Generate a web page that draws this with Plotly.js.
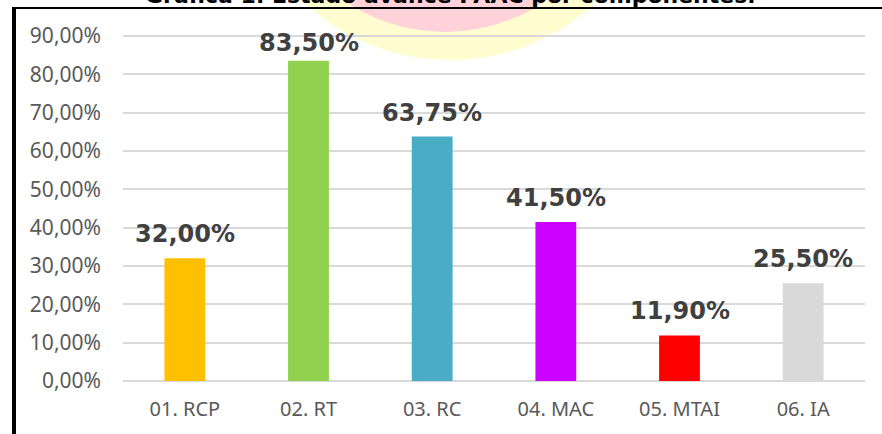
<!DOCTYPE html>
<html>
<head>
<meta charset="utf-8">
<script src="https://cdn.plot.ly/plotly-3.0.1.min.js"></script>
<style>html,body{margin:0;padding:0;background:#fff;}#chart{width:882px;height:434px;}</style>
</head>
<body>
<div id="chart"></div>
<script>
const categories = ["01. RCP", "02. RT", "03. RC", "04. MAC", "05. MTAI", "06. IA"];
const values = [32.00, 83.50, 63.75, 41.50, 11.90, 25.50];
const labels = ["32,00%", "83,50%", "63,75%", "41,50%", "11,90%", "25,50%"];
const colors = ["#FFC000", "#92D050", "#4BACC6", "#CC00FF", "#FF0000", "#D9D9D9"];
const tickValues = [0, 10, 20, 30, 40, 50, 60, 70, 80, 90];
const tickLabels = ["0,00%", "10,00%", "20,00%", "30,00%", "40,00%", "50,00%", "60,00%", "70,00%", "80,00%", "90,00%"];
const titleText = "Gráfica 1. Estado avance PAAC por componentes.";

const trace = {
  type: "bar",
  x: categories,
  y: values,
  marker: {color: colors},
  hoverinfo: "none"
};

// labels near the top of the plot area are pulled down a little, as in the reference
const annotations = categories.map((c, i) => ({
  x: c, y: values[i], xref: "x", yref: "y",
  text: labels[i], showarrow: false, yanchor: "bottom",
  yshift: values[i] > 80 ? 2 : 8,
  font: {family: "DejaVu Sans", size: 24, color: "#404040", weight: "bold"}
}));
annotations.push({
  x: 0.442, y: 1.0688, xref: "paper", yref: "paper", yanchor: "bottom",
  text: "<b>" + titleText + "</b>", showarrow: false,
  font: {family: "DejaVu Sans", size: 22, color: "#000000"}
});

const layout = {
  width: 882, height: 434,
  margin: {l: 123, r: 17, t: 34, b: 51},
  paper_bgcolor: "#ffffff", plot_bgcolor: "#ffffff",
  bargap: 0.67,
  showlegend: false,
  xaxis: {
    showgrid: false, showline: false, zeroline: false, ticks: "",
    tickfont: {family: "Noto Sans", size: 20, color: "#595959"},
    ticklabelstandoff: 12
  },
  yaxis: {
    range: [-0.5, 90.5], showgrid: true, gridcolor: "#D9D9D9", gridwidth: 2,
    zeroline: false, showline: false, ticks: "",
    tickmode: "array", tickvals: tickValues, ticktext: tickLabels,
    tickfont: {family: "Noto Sans", size: 21, color: "#595959"},
    ticklabelstandoff: 21
  },
  annotations: annotations,
  shapes: [
    {type: "circle", xref: "paper", yref: "paper", layer: "below",
     x0: (450-214-123)/742, x1: (450+214-123)/742,
     y0: 1 + (34-60)/348.8, y1: 1 + (34+368)/348.8,
     fillcolor: "#FFFDD0", line: {width: 0}},
    {type: "circle", xref: "paper", yref: "paper", layer: "below",
     x0: (445-177-123)/742, x1: (445+177-123)/742,
     y0: 1 + (34-32)/348.8, y1: 1 + (34+322)/348.8,
     fillcolor: "#FFD1D9", line: {width: 0}},
    {type: "line", xref: "paper", yref: "paper",
     x0: -109/742, x1: 759/742, y0: 1 + (34-8)/348.8, y1: 1 + (34-8)/348.8,
     line: {color: "#000000", width: 2}},
    {type: "line", xref: "paper", yref: "paper",
     x0: -109/742, x1: -109/742, y0: 1 + (34-7)/348.8, y1: -60/348.8,
     line: {color: "#000000", width: 4}}
  ]
};

Plotly.newPlot("chart", [trace], layout, {displayModeBar: false, staticPlot: true});
</script>
</body>
</html>
